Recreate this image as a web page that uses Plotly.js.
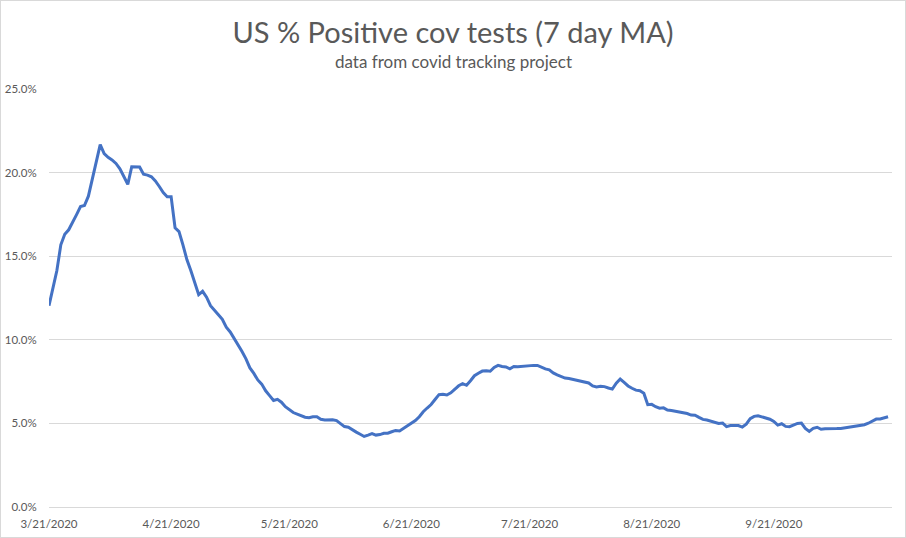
<!DOCTYPE html>
<html>
<head>
<meta charset="utf-8">
<script src="https://cdn.plot.ly/plotly-3.0.1.min.js"></script>
<style>
  html, body { margin: 0; padding: 0; background: #fff; }
  #wrap { position: relative; width: 906px; height: 538px; }
  #chart { width: 906px; height: 538px; }
  #frame { position: absolute; left: 0; top: 0; width: 906px; height: 538px; box-sizing: border-box; border: 1px solid #d9d9d9; pointer-events: none; }
</style>
</head>
<body>
<div id="wrap"><div id="chart"></div><div id="frame"></div></div>
<script>
// First date of the series; one value per consecutive day
const startDate = '2020-03-21';
const positivityPct = [
  12.04, 13.09, 14.14, 15.68, 16.31, 16.58, 17.00, 17.49, 17.97, 18.03,
  18.59, 19.65, 20.69, 21.67, 21.13, 20.91, 20.76, 20.55, 20.23, 19.76,
  19.30, 20.35, 20.36, 20.33, 19.90, 19.85, 19.75, 19.50, 19.17, 18.80,
  18.56, 18.56, 16.70, 16.47, 15.68, 14.80, 14.14, 13.37, 12.70, 12.90,
  12.55, 12.04, 11.74, 11.50, 11.22, 10.75, 10.47, 10.10, 9.70, 9.30,
  8.86, 8.32, 7.99, 7.60, 7.35, 6.95, 6.66, 6.37, 6.44, 6.27,
  6.00, 5.80, 5.65, 5.56, 5.47, 5.37, 5.34, 5.40, 5.40, 5.25,
  5.20, 5.20, 5.22, 5.17, 5.00, 4.81, 4.77, 4.60, 4.48, 4.35,
  4.22, 4.30, 4.39, 4.30, 4.33, 4.41, 4.41, 4.50, 4.58, 4.55,
  4.70, 4.88, 5.00, 5.17, 5.40, 5.70, 5.92, 6.13, 6.43, 6.72,
  6.74, 6.70, 6.83, 7.06, 7.25, 7.38, 7.28, 7.55, 7.85, 8.00,
  8.13, 8.15, 8.12, 8.35, 8.47, 8.40, 8.38, 8.26, 8.40, 8.39,
  8.42, 8.45, 8.46, 8.47, 8.47, 8.35, 8.26, 8.20, 8.02, 7.90,
  7.78, 7.71, 7.68, 7.62, 7.58, 7.53, 7.48, 7.42, 7.24, 7.18,
  7.22, 7.20, 7.12, 7.05, 7.40, 7.65, 7.45, 7.24, 7.10, 6.99,
  6.95, 6.80, 6.12, 6.14, 6.00, 5.91, 5.93, 5.80, 5.77, 5.73,
  5.66, 5.64, 5.59, 5.50, 5.49, 5.36, 5.24, 5.20, 5.13, 5.07,
  5.00, 5.02, 4.81, 4.87, 4.88, 4.87, 4.78, 4.95, 5.28, 5.42,
  5.46, 5.39, 5.33, 5.25, 5.12, 4.90, 4.98, 4.82, 4.80, 4.92,
  5.00, 5.02, 4.70, 4.52, 4.70, 4.77, 4.65, 4.68, 4.67, 4.68,
  4.69, 4.70, 4.74, 4.80, 4.80, 4.88, 4.89, 4.92, 5.01, 5.14,
  5.26, 5.26, 5.32, 5.40
];
const xTickVals = ['2020-03-21', '2020-04-21', '2020-05-21', '2020-06-21', '2020-07-21', '2020-08-21', '2020-09-21'];
const xTickText = ['3/21/2020', '4/21/2020', '5/21/2020', '6/21/2020', '7/21/2020', '8/21/2020', '9/21/2020'];
const yTickVals = [0, 5, 10, 15, 20, 25];
const yTickText = ['0.0%', '5.0%', '10.0%', '15.0%', '20.0%', '25.0%'];

const titleText = 'US % Positive cov tests (7 day MA)';
const subtitleText = 'data from covid tracking project';

function addDays(iso, n) {
  const d = new Date(iso + 'T00:00:00Z');
  d.setUTCDate(d.getUTCDate() + n);
  return d.toISOString().slice(0, 10);
}
const dates = positivityPct.map((_, i) => addDays(startDate, i));
const lastDate = dates[dates.length - 1];

const fontFam = 'Lato, "Liberation Sans", sans-serif';
const textGray = '#595959';

const trace = {
  x: dates,
  y: positivityPct,
  type: 'scatter',
  mode: 'lines',
  line: { color: '#4472C4', width: 3, shape: 'linear' },
  hoverinfo: 'x+y'
};

const layout = {
  width: 906,
  height: 538,
  margin: { l: 49, r: 14, t: 89, b: 31, pad: 0 },
  paper_bgcolor: '#ffffff',
  plot_bgcolor: '#ffffff',
  showlegend: false,
  title: {
    text: titleText,
    font: { family: fontFam, size: 29, color: textGray },
    x: 0.5, xref: 'container', xanchor: 'center',
    y: 1 - 33 / 538, yref: 'container', yanchor: 'middle'
  },
  annotations: [{
    text: subtitleText,
    xref: 'paper', yref: 'paper',
    x: (453 - 49) / 843, y: (507 - 62) / 418,
    xanchor: 'center', yanchor: 'middle',
    showarrow: false,
    font: { family: fontFam, size: 17, color: textGray }
  }],
  xaxis: {
    type: 'date',
    range: [startDate + ' 00:00', addDays(lastDate, 1) + ' 00:00'],
    tickmode: 'array',
    tickvals: xTickVals,
    ticktext: xTickText,
    showgrid: false,
    zeroline: false,
    showline: false,
    ticks: 'outside',
    ticklen: 6,
    tickcolor: 'rgba(0,0,0,0)',
    tickfont: { family: fontFam, size: 11.5, color: textGray },
    fixedrange: true
  },
  yaxis: {
    range: [0, 25],
    tickmode: 'array',
    tickvals: yTickVals,
    ticktext: yTickText,
    showgrid: true,
    gridcolor: '#d9d9d9',
    gridwidth: 1,
    zeroline: true,
    zerolinecolor: '#d9d9d9',
    zerolinewidth: 1,
    showline: false,
    ticks: 'outside',
    ticklen: 9,
    tickcolor: 'rgba(0,0,0,0)',
    tickfont: { family: fontFam, size: 11.5, color: textGray },
    fixedrange: true
  }
};

Plotly.newPlot('chart', [trace], layout, { displayModeBar: false, staticPlot: true });
</script>
</body>
</html>
